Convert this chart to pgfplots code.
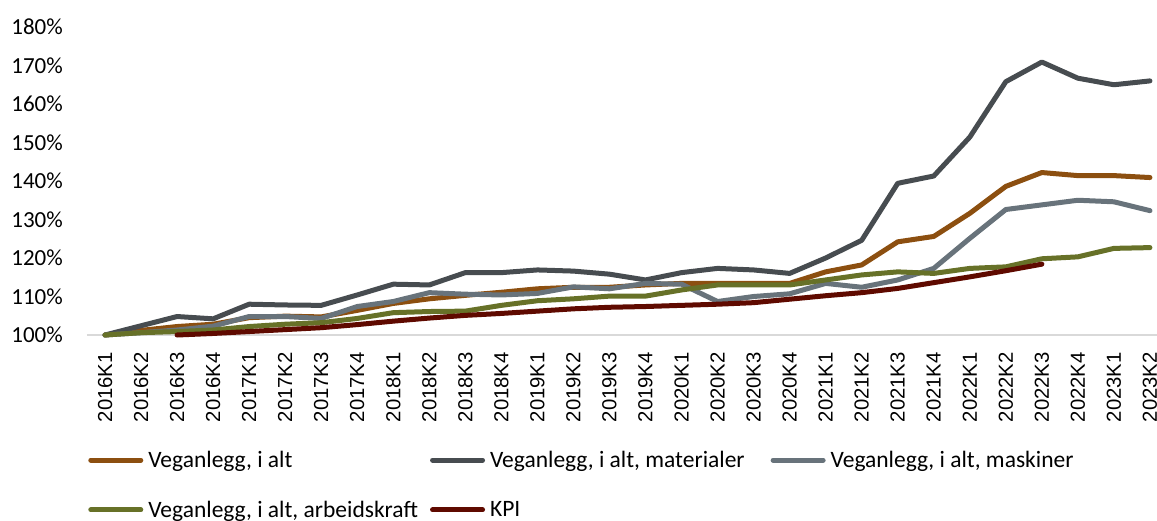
\documentclass[border=0pt]{standalone}
\usepackage{fontspec}
\setmainfont{Carlito}
\newfontfamily\arialfont{Liberation Sans}
\usepackage{pgfplots}
\usepackage{pgfplotstable}
\pgfplotsset{compat=1.18}

\definecolor{cTot}{HTML}{8C4F10}
\definecolor{cMat}{HTML}{474C50}
\definecolor{cMas}{HTML}{68737B}
\definecolor{cArb}{HTML}{677128}
\definecolor{cKpi}{HTML}{5F0A00}
\definecolor{cBase}{HTML}{D9D9D9}

% index, i alt, materialer, maskiner, arbeidskraft, KPI
\pgfplotstableread{
i tot mat mas arb kpi
0  100.0 100.0 100.0 100.0 nan
1  101.2 102.4 100.6 100.6 nan
2  102.2 104.8 101.3 100.9 100.0
3  102.8 104.2 102.3 101.3 100.4
4  104.5 108.0 104.8 102.2 100.9
5  104.9 107.8 104.8 102.8 101.4
6  104.7 107.7 104.3 103.2 101.9
7  106.4 110.4 107.4 104.3 102.7
8  108.2 113.2 108.7 105.8 103.6
9  109.4 113.0 111.0 106.1 104.4
10 110.3 116.2 110.6 106.2 105.1
11 111.1 116.2 110.4 107.7 105.6
12 112.0 116.9 110.8 108.9 106.2
13 112.4 116.6 112.5 109.4 106.8
14 112.4 115.8 112.0 110.1 107.2
15 113.0 114.3 113.4 110.1 107.4
16 113.4 116.2 113.2 111.7 107.7
17 113.4 117.3 108.7 113.0 108.0
18 113.4 116.9 110.0 113.0 108.4
19 113.4 116.0 110.7 113.0 109.3
20 116.4 120.0 113.4 114.3 110.2
21 118.2 124.6 112.4 115.6 111.0
22 124.2 139.4 114.3 116.4 112.1
23 125.6 141.3 117.3 116.0 113.6
24 131.6 151.4 125.1 117.3 115.1
25 138.6 165.8 132.6 117.7 116.7
26 142.2 170.9 133.8 119.8 118.4
27 141.4 166.7 135.0 120.3 nan
28 141.4 165.0 134.6 122.5 nan
29 140.9 166.0 132.3 122.7 nan
}\data

\begin{document}
\begin{tikzpicture}
\begin{axis}[
  scale only axis,
  width=1081pt, height=308pt,
  xmin=-0.5, xmax=29.5,
  ymin=100, ymax=180,
  clip=false,
  axis x line*=bottom, axis y line*=left,
  x axis line style={draw=cBase, line width=1.5pt},
  y axis line style={draw=none},
  major tick length=0pt,
  xtick={0,...,29},
  xticklabels={2016K1,2016K2,2016K3,2016K4,2017K1,2017K2,2017K3,2017K4,
    2018K1,2018K2,2018K3,2018K4,2019K1,2019K2,2019K3,2019K4,
    2020K1,2020K2,2020K3,2020K4,2021K1,2021K2,2021K3,2021K4,
    2022K1,2022K2,2022K3,2022K4,2023K1,2023K2},
  xticklabel style={rotate=90, anchor=east, inner sep=0pt,
    font=\arialfont\fontsize{20.3}{22}\selectfont},
  xticklabel shift=17pt,
  ytick={100,110,...,180},
  yticklabel={\pgfmathprintnumber{\tick}\%},
  /pgf/number format/assume math mode=true,
  yticklabel style={anchor=east, inner sep=0pt,
    font=\fontsize{23}{26}\selectfont},
  yticklabel shift=24pt,
  every axis plot/.append style={line width=5pt, line cap=round, line join=round},
  legend columns=3,
  legend cell align=left,
  legend style={at={(axis description cs:0.001,-0.37)}, anchor=north west,
    draw=none, fill=none, inner sep=0pt,
    font=\fontsize{23.5}{26}\selectfont,
    row sep=28pt,
    /tikz/every odd column/.append style={column sep=3pt},
    /tikz/every even column/.append style={column sep=10pt}},
  legend image code/.code={\draw[#1, line width=5pt, line cap=round] (2.5pt,0pt) -- (52.5pt,0pt);},
]
\addplot[cTot] table[x=i, y=tot] {\data};
\addlegendentry{Veganlegg, i alt}
\addplot[cMat] table[x=i, y=mat] {\data};
\addlegendentry{Veganlegg, i alt, materialer\hspace*{14pt}}
\addplot[cMas] table[x=i, y=mas] {\data};
\addlegendentry{Veganlegg, i alt, maskiner}
\addplot[cArb] table[x=i, y=arb] {\data};
\addlegendentry{Veganlegg, i alt, arbeidskraft}
\addplot[cKpi] table[x=i, y=kpi] {\data};
\addlegendentry{KPI}
\end{axis}
\pgfresetboundingbox
\useasboundingbox (-87pt,-185pt) rectangle (1070pt,335pt);
\end{tikzpicture}
\end{document}
